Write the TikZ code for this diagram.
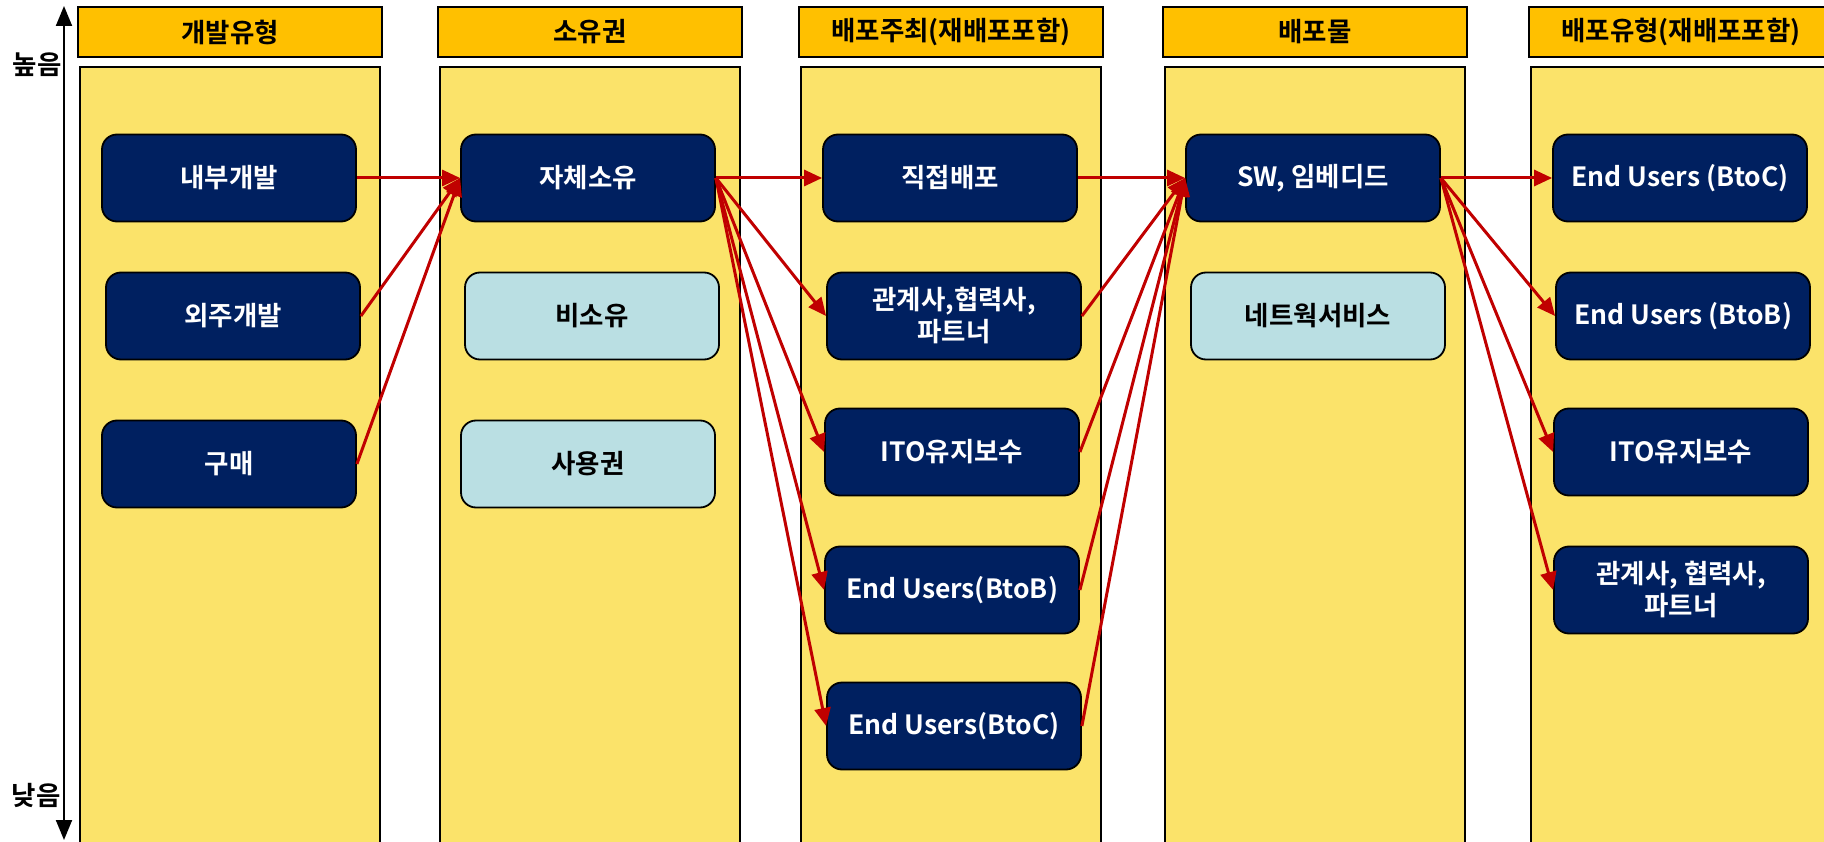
\documentclass[tikz,border=0pt]{standalone}
\usepackage{fontspec}
\setmainfont{Noto Sans CJK KR}[BoldFont={Noto Sans CJK KR Bold}]
\usetikzlibrary{arrows.meta}
\begin{document}
\begin{tikzpicture}[x=1pt,y=-1pt,font=\bfseries\fontsize{26.5}{32}\selectfont,
  headbox/.style={draw,line width=1.8pt,fill=hdfill,minimum width=304pt,minimum height=50pt,inner sep=0pt},
  darkbox/.style={draw,line width=1.8pt,fill=navy,text=white,rounded corners=15pt,minimum width=254pt,minimum height=87pt,align=center,inner sep=0pt},
  palebox/.style={darkbox,fill=lblue,text=black},
  flow/.style={draw=arrowred,line width=3pt,-{Triangle[length=18pt,width=16pt]}}]
\definecolor{hdfill}{HTML}{FFC000}\definecolor{colfill}{HTML}{FBE36A}\definecolor{navy}{HTML}{002060}\definecolor{lblue}{HTML}{BADFE3}\definecolor{arrowred}{HTML}{C00000}
\clip (0,0) rectangle (1824,842);
% columns and their headers
\foreach \x/\t [count=\i] in {80/개발유형,440/소유권,801/배포주최(재배포포함),1165/배포물,1531/배포유형(재배포포함)}{\filldraw[fill=colfill,line width=1.8pt] (\x,67) rectangle ++(300,800);\node[headbox] (hd\i) at (\x+150,32) {\t};}
% high / low axis
\coordinate (axtop) at (64,6);\coordinate (axbot) at (64,840);\draw[line width=2pt,{Triangle[length=20pt,width=16pt]}-{Triangle[length=20pt,width=16pt]}] (axtop)--(axbot);\node (hi) at (37,65) {높음};\node (lo) at (36,795) {낮음};
% boxes
\node[darkbox] (dev) at (229,178) {내부개발};\node[darkbox] (outs) at (233,316) {외주개발};\node[darkbox] (buy) at (229,464) {구매};
\node[darkbox] (own) at (588,178) {자체소유};\node[palebox] (nown) at (592,316) {비소유};\node[palebox] (lic) at (588,464) {사용권};
\node[darkbox] (direct) at (950,178) {직접배포};\node[darkbox] (affil) at (954,316) {관계사,협력사,\\파트너};\node[darkbox] (ito) at (952,452) {ITO유지보수};\node[darkbox] (btob) at (952,590) {End Users(BtoB)};\node[darkbox] (btoc) at (954,726) {End Users(BtoC)};
\node[darkbox] (sw) at (1313,178) {SW, 임베디드};\node[palebox] (net) at (1318,316) {네트웍서비스};
\node[darkbox] (ubtoc) at (1680,178) {End Users (BtoC)};\node[darkbox] (ubtob) at (1683,316) {End Users (BtoB)};\node[darkbox] (uito) at (1681,452) {ITO유지보수};\node[darkbox] (uaffil) at (1681,590) {관계사, 협력사,\\파트너};
% flows
\foreach \a/\b in {dev/own,outs/own,buy/own,own/direct,own/affil,own/ito,own/btob,own/btoc,direct/sw,affil/sw,ito/sw,btob/sw,btoc/sw,sw/ubtoc,sw/ubtob,sw/uito,sw/uaffil}{\draw[flow] (\a.east)--(\b.west);}
\end{tikzpicture}
\end{document}
